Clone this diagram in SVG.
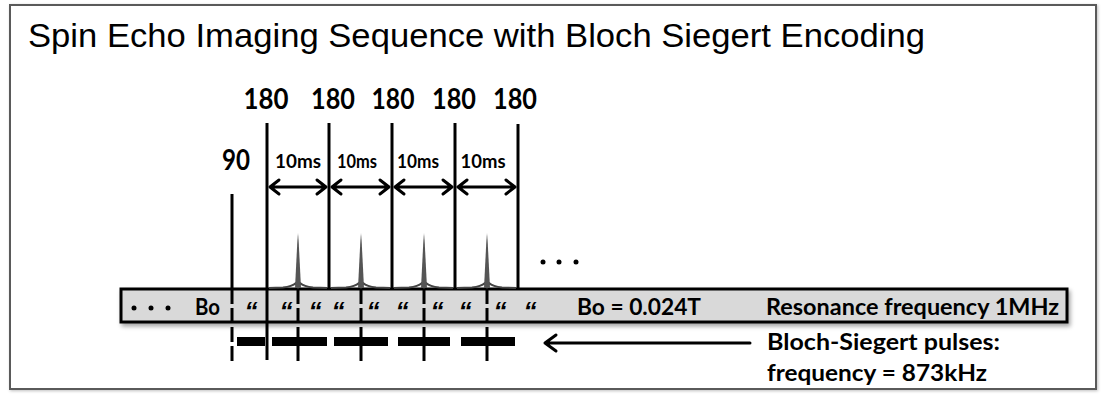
<svg xmlns="http://www.w3.org/2000/svg" width="1107" height="400" viewBox="0 0 1107 400">
<defs>
<filter id="sh" x="-5%" y="-30%" width="110%" height="180%">
<feDropShadow dx="2" dy="3" stdDeviation="2" flood-color="#000" flood-opacity="0.35"/>
</filter>
<filter id="fsh" x="-2%" y="-2%" width="104%" height="104%">
<feDropShadow dx="1" dy="1" stdDeviation="1.5" flood-color="#000" flood-opacity="0.25"/>
</filter>
<style>
.b{font-family:Lato,"Liberation Sans",sans-serif;font-weight:bold;fill:#000}
.q{font-family:"Liberation Sans",sans-serif;font-weight:bold;font-style:italic;font-size:26px;fill:#000;text-anchor:middle}
.v{stroke:#000;stroke-width:3;fill:none}
.d{stroke:#000;stroke-width:3;fill:none;stroke-dasharray:15 4}
.ar{stroke:#000;stroke-width:3;fill:none;stroke-linecap:round;stroke-linejoin:round}
.base{stroke:#444;stroke-width:2;fill:none}
.spk{fill:#555}
.pl{fill:#000}
</style>
</defs>
<rect x="0" y="0" width="1107" height="400" fill="#fff"/>
<g id="frame">
<rect x="10" y="5" width="1086" height="384" fill="#fff" stroke="#5a5a5a" stroke-width="2" filter="url(#fsh)"/>
</g>
<g id="title">
<text x="28" y="47" font-family="Liberation Sans, Arial, sans-serif" font-size="33" textLength="897" lengthAdjust="spacingAndGlyphs">Spin Echo Imaging Sequence with Bloch Siegert Encoding</text>
</g>
<g id="bo-bar">
<rect x="121" y="289" width="946" height="33" fill="#d9d9d9" stroke="#000" stroke-width="3" filter="url(#sh)"/>
<circle cx="134" cy="308" r="2.5"/>
<circle cx="151" cy="308" r="2.5"/>
<circle cx="168" cy="308" r="2.5"/>
<text class="b" x="195" y="315" font-size="22" textLength="25" lengthAdjust="spacingAndGlyphs">Bo</text>
<text class="b" x="577" y="315" font-size="22" textLength="124" lengthAdjust="spacingAndGlyphs">Bo = 0.024T</text>
<text class="b" x="766" y="315" font-size="22" textLength="293" lengthAdjust="spacingAndGlyphs">Resonance frequency 1MHz</text>
<text class="q" x="251" y="320">“</text>
<text class="q" x="286" y="320">“</text>
<text class="q" x="315" y="320">“</text>
<text class="q" x="338" y="320">“</text>
<text class="q" x="373" y="320">“</text>
<text class="q" x="402" y="320">“</text>
<text class="q" x="437" y="320">“</text>
<text class="q" x="465" y="320">“</text>
<text class="q" x="500" y="320">“</text>
<text class="q" x="530" y="320">“</text>
</g>
<g id="echoes">
<path class="base" d="M269,288 L283,287.5 Q292,286.5 296,283 L298,287 L300,283 Q304,286.5 313,287.5 L327,288"/>
<path class="base" d="M331,288 L346,287.5 Q355,286.5 359,283 L361,287 L363,283 Q367,286.5 376,287.5 L390,288"/>
<path class="base" d="M394,288 L409,287.5 Q418,286.5 422,283 L424,287 L426,283 Q430,286.5 439,287.5 L453,288"/>
<path class="base" d="M457,288 L472,287.5 Q481,286.5 485,283 L487,287 L489,283 Q493,286.5 502,287.5 L516,288"/>
<path class="spk" d="M295,288 L297.3,242 L298,233 L298.7,242 L301,288 Z"/>
<path class="spk" d="M358,288 L360.3,242 L361,233 L361.7,242 L364,288 Z"/>
<path class="spk" d="M421,288 L423.3,242 L424,233 L424.7,242 L427,288 Z"/>
<path class="spk" d="M484,288 L486.3,242 L487,233 L487.7,242 L490,288 Z"/>
<circle cx="543" cy="262" r="2.5"/>
<circle cx="559" cy="262" r="2.5"/>
<circle cx="576" cy="262" r="2.5"/>
</g>
<g id="pulse-90">
<line class="v" x1="232" y1="194" x2="232" y2="289"/>
<line class="d" x1="232" y1="289" x2="232" y2="364"/>
<text class="b" x="236" y="170" font-size="29" text-anchor="middle" textLength="28" lengthAdjust="spacingAndGlyphs">90</text>
</g>
<g id="pulses-180">
<line class="v" x1="267" y1="123" x2="267" y2="360"/>
<line class="v" x1="329" y1="123" x2="329" y2="289"/>
<line class="v" x1="392" y1="123" x2="392" y2="289"/>
<line class="v" x1="455" y1="123" x2="455" y2="289"/>
<line class="v" x1="518" y1="124" x2="518" y2="289"/>
<text class="b" x="266" y="109" font-size="29" text-anchor="middle" textLength="45" lengthAdjust="spacingAndGlyphs">180</text>
<text class="b" x="333" y="109" font-size="29" text-anchor="middle" textLength="44" lengthAdjust="spacingAndGlyphs">180</text>
<text class="b" x="393" y="109" font-size="29" text-anchor="middle" textLength="43" lengthAdjust="spacingAndGlyphs">180</text>
<text class="b" x="454" y="109" font-size="29" text-anchor="middle" textLength="44" lengthAdjust="spacingAndGlyphs">180</text>
<text class="b" x="515" y="109" font-size="29" text-anchor="middle" textLength="44" lengthAdjust="spacingAndGlyphs">180</text>
</g>
<g id="echo-markers">
<line class="d" x1="298" y1="289" x2="298" y2="364"/>
<line class="d" x1="361" y1="289" x2="361" y2="364"/>
<line class="d" x1="424" y1="289" x2="424" y2="364"/>
<line class="d" x1="487" y1="289" x2="487" y2="364"/>
</g>
<g id="bs-pulses">
<rect class="pl" x="237" y="337" width="28" height="9"/>
<rect class="pl" x="272" y="337" width="55" height="9"/>
<rect class="pl" x="334" y="337" width="54" height="9"/>
<rect class="pl" x="398" y="337" width="52" height="9"/>
<rect class="pl" x="461" y="337" width="54" height="9"/>
</g>
<g id="interval-labels">
<text class="b" x="298" y="168" font-size="18" text-anchor="middle" textLength="46" lengthAdjust="spacingAndGlyphs">10ms</text>
<text class="b" x="357" y="168" font-size="18" text-anchor="middle" textLength="40" lengthAdjust="spacingAndGlyphs">10ms</text>
<text class="b" x="418" y="168" font-size="18" text-anchor="middle" textLength="42" lengthAdjust="spacingAndGlyphs">10ms</text>
<text class="b" x="483" y="168" font-size="18" text-anchor="middle" textLength="45" lengthAdjust="spacingAndGlyphs">10ms</text>
</g>
<g id="bs-label">
<text class="b" x="767" y="350" font-size="23" textLength="233" lengthAdjust="spacingAndGlyphs">Bloch-Siegert pulses:</text>
<text class="b" x="767" y="381" font-size="23" textLength="220" lengthAdjust="spacingAndGlyphs">frequency = 873kHz</text>
</g>
<g id="connectors">
<path class="ar" d="M270,187 H326 M279,180 L270,187 L279,194 M317,180 L326,187 L317,194"/>
<path class="ar" d="M332,187 H389 M341,180 L332,187 L341,194 M380,180 L389,187 L380,194"/>
<path class="ar" d="M395,187 H452 M404,180 L395,187 L404,194 M443,180 L452,187 L443,194"/>
<path class="ar" d="M458,187 H515 M467,180 L458,187 L467,194 M506,180 L515,187 L506,194"/>
<path class="ar" d="M545,343 H750 M556,335 L545,343 L556,351"/>
</g>
</svg>
